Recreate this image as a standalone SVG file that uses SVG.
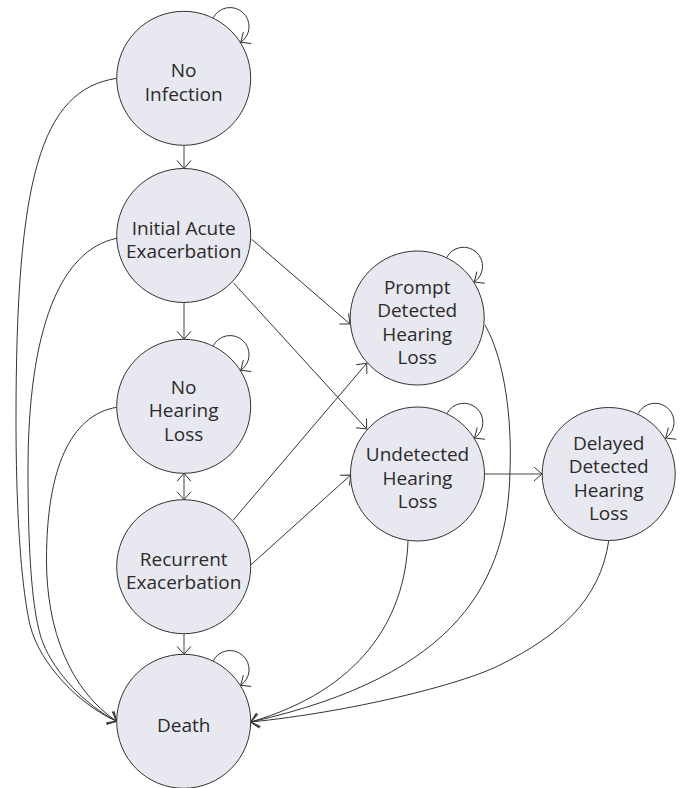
<svg xmlns="http://www.w3.org/2000/svg" width="683" height="788" viewBox="0 0 683 788">
<style>
.node circle{fill:#e8e8f0;stroke:#333;stroke-width:1}
.node text{font-family:"Open Sans","Noto Sans","Liberation Sans",sans-serif;font-size:19px;fill:#2b2b2b;text-anchor:middle}
.edges path{fill:none;stroke:#333;stroke-width:1}
.edges .v{stroke:#444}
</style>
<defs>
<marker id="ah" markerUnits="userSpaceOnUse" markerWidth="12" markerHeight="16" refX="8" refY="7" orient="auto" overflow="visible">
<path d="M0,0 L8,7 L0,14" fill="none" stroke="#333" stroke-width="1"/>
</marker>
<marker id="ahs" markerUnits="userSpaceOnUse" markerWidth="12" markerHeight="16" refX="8" refY="7" orient="auto-start-reverse" overflow="visible">
<path d="M0,0 L8,7 L0,14" fill="none" stroke="#333" stroke-width="1"/>
</marker>
</defs>

<g class="edges" id="connectors">
<!-- self loops -->
<path d="M213.2 17.8 A19 19 0 1 1 240.7 42.3" marker-end="url(#ah)"/>
<path d="M213.2 345.8 A19 19 0 1 1 240.7 370.3" marker-end="url(#ah)"/>
<path d="M213.2 660.8 A19 19 0 1 1 240.7 685.3" marker-end="url(#ah)"/>
<path d="M446.7 257.5 A19 19 0 1 1 474.2 282" marker-end="url(#ah)"/>
<path d="M447 413.5 A19 19 0 1 1 474.5 438" marker-end="url(#ah)"/>
<path d="M638.2 413.5 A19 19 0 1 1 665.7 438" marker-end="url(#ah)"/>
<!-- vertical -->
<path class="v" d="M184 145.3 L184 168.5" marker-end="url(#ah)"/>
<path class="v" d="M184 302.5 L184 339.3" marker-end="url(#ah)"/>
<path class="v" d="M184 473.3 L184 499.7" marker-start="url(#ahs)" marker-end="url(#ah)"/>
<path class="v" d="M184 633.7 L184 654.3" marker-end="url(#ah)"/>
<!-- diagonals -->
<path d="M251.7 239.3 L350 324" marker-end="url(#ah)"/>
<path d="M233.3 282.7 L366.7 429" marker-end="url(#ah)"/>
<path d="M233.3 520 L366.7 363.3" marker-end="url(#ah)"/>
<path d="M250.7 565 L350.7 475" marker-end="url(#ah)"/>
<path class="v" d="M484.5 474 L542 474" marker-end="url(#ah)"/>
<!-- left curves to Death -->
<path d="M116.7 78.3 C40 90 16 180 16 420 C16 520 22 590 30 625 C40 665 80 705 116.7 721.3" marker-end="url(#ah)"/>
<path d="M116.7 238.3 C60 250 28 330 28 470 C28 570 34 620 43 643 C55 673 85 705 116.7 721.3" marker-end="url(#ah)"/>
<path d="M116.7 407.3 C70 415 46.5 470 46.5 560 C46.5 630 70 690 116.7 721.3" marker-end="url(#ah)"/>
<!-- right curves to Death -->
<path d="M485 325 C505 360 512 420 510 470 C508 580 460 675 250.7 722" marker-end="url(#ah)"/>
<path d="M408 541 C405 620 360 690 250.7 722" marker-end="url(#ah)"/>
<path d="M608.7 541 C600 600 560 635 500 665 C460 685 350 712 250.7 722" marker-end="url(#ah)"/>
</g>

<g class="node" id="no-infection">
<circle cx="183.7" cy="78.3" r="67"/>
<text x="183.7" y="77.3">No</text>
<text x="183.7" y="100.8">Infection</text>
</g>
<g class="node" id="initial-acute">
<circle cx="183.7" cy="235.5" r="67"/>
<text x="183.7" y="234.5">Initial Acute</text>
<text x="183.7" y="258">Exacerbation</text>
</g>
<g class="node" id="no-hearing-loss">
<circle cx="183.7" cy="406.3" r="67"/>
<text x="183.7" y="393.5">No</text>
<text x="183.7" y="417">Hearing</text>
<text x="183.7" y="440.5">Loss</text>
</g>
<g class="node" id="recurrent">
<circle cx="183.7" cy="566.7" r="67"/>
<text x="183.7" y="565.9">Recurrent</text>
<text x="183.7" y="589.4">Exacerbation</text>
</g>
<g class="node" id="death">
<circle cx="183.7" cy="721.3" r="67"/>
<text x="183.7" y="732">Death</text>
</g>
<g class="node" id="prompt">
<circle cx="417.2" cy="318" r="67"/>
<text x="417.2" y="293.6">Prompt</text>
<text x="417.2" y="317.1">Detected</text>
<text x="417.2" y="340.6">Hearing</text>
<text x="417.2" y="364.1">Loss</text>
</g>
<g class="node" id="undetected">
<circle cx="417.5" cy="474" r="67"/>
<text x="417.5" y="461.2">Undetected</text>
<text x="417.5" y="484.7">Hearing</text>
<text x="417.5" y="508.2">Loss</text>
</g>
<g class="node" id="delayed">
<circle cx="608.7" cy="474" r="66.5"/>
<text x="608.7" y="449.6">Delayed</text>
<text x="608.7" y="473.1">Detected</text>
<text x="608.7" y="496.6">Hearing</text>
<text x="608.7" y="520.1">Loss</text>
</g>
</svg>
